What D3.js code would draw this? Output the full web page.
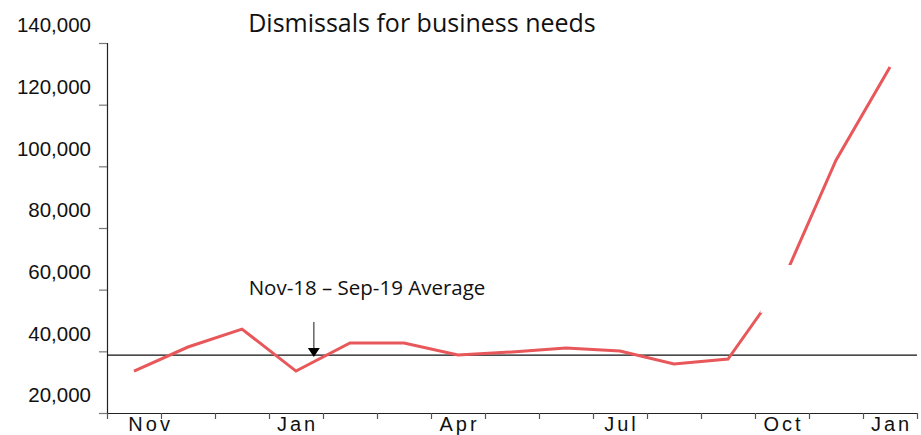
<!DOCTYPE html>
<html>
<head>
<meta charset="utf-8">
<script src="https://cdn.jsdelivr.net/npm/d3@7"></script>
<style>
  html, body { margin: 0; padding: 0; background: #fff; }
  svg { display: block; }
</style>
</head>
<body>
<svg id="chart" width="921" height="435"></svg>
<script>
// ---- data ----
const months = ["Nov-18","Dec-18","Jan-19","Feb-19","Mar-19","Apr-19","May-19","Jun-19",
                "Jul-19","Aug-19","Sep-19","Oct-19","Nov-19","Dec-19","Jan-20"];
const dismissals = [33600, 41400, 47200, 33600, 42700, 42700, 38800, 39800,
                    41100, 40100, 35900, 37500, 62200, 102000, 132200];
const average = 38800;
const yTicks = [20000, 40000, 60000, 80000, 100000, 120000, 140000];
const xTickLabels = ["Nov", "Jan", "Apr", "Jul", "Oct", "Jan"];
const xTickLabelPos = [0.28, 3, 6, 9, 12, 14]; // position in month index units
const title = "Dismissals for business needs";
const annotation = "Nov-18 \u2013 Sep-19 Average";

// ---- layout ----
const svg = d3.select("#chart");
const x = d3.scaleLinear().domain([-0.5, months.length - 0.5]).range([107, 917]);
const y = d3.scaleLinear().domain([20000, 140000]).range([413, 43]);

// title
svg.append("text")
  .attr("x", 422).attr("y", 32)
  .attr("text-anchor", "middle")
  .attr("font-family", "'Open Sans', sans-serif")
  .attr("font-size", 25)
  .attr("fill", "#111")
  .text(title);

// y axis
const yAxis = svg.append("g")
  .attr("transform", `translate(${x.range()[0]},0)`)
  .call(d3.axisLeft(y).tickValues(yTicks).tickFormat(d3.format(",")).tickSize(8).tickPadding(8));
yAxis.select(".domain").attr("stroke", "#222").attr("stroke-width", 1.2);
yAxis.selectAll(".tick line").attr("stroke", "#777").attr("stroke-width", 1.2);
yAxis.selectAll(".tick text")
  .attr("dy", "-0.55em")
  .attr("font-family", "'Liberation Sans', Arial, sans-serif")
  .attr("font-size", 20.5)
  .attr("fill", "#111");

// x axis
const xTickVals = d3.range(-0.5, months.length, 1);
const xAxis = svg.append("g")
  .attr("transform", `translate(0,${y.range()[0]})`)
  .call(d3.axisBottom(x).tickValues(xTickVals).tickFormat("").tickSize(6).tickSizeOuter(0));
xAxis.select(".domain").attr("stroke", "#222").attr("stroke-width", 1.2);
xAxis.selectAll(".tick line").attr("stroke", "#555").attr("stroke-width", 1.2);

svg.append("g").selectAll("text")
  .data(xTickLabels)
  .join("text")
  .attr("x", (d, i) => x(xTickLabelPos[i]) + 1.5)
  .attr("y", 431)
  .attr("text-anchor", "middle")
  .attr("font-family", "'Liberation Sans', Arial, sans-serif")
  .attr("font-size", 20)
  .attr("letter-spacing", 3)
  .attr("fill", "#111")
  .text(d => d);

// average line
svg.append("line")
  .attr("x1", x.range()[0]).attr("x2", x.range()[1])
  .attr("y1", y(average)).attr("y2", y(average))
  .attr("stroke", "#111").attr("stroke-width", 1.3);

// series line
const line = d3.line().x((d, i) => x(i)).y(d => y(d));
svg.append("path")
  .datum(dismissals)
  .attr("d", line)
  .attr("fill", "none")
  .attr("stroke", "#e8575a")
  .attr("stroke-width", 3)
  .attr("stroke-linejoin", "miter");

// white gap over the line near Oct (as in the reference)
svg.append("rect")
  .attr("x", x(11.6)).attr("width", x(12.4) - x(11.6))
  .attr("y", y(68000)).attr("height", y(52500) - y(68000))
  .attr("fill", "#fff");

// annotation
svg.append("text")
  .attr("x", 367).attr("y", 295)
  .attr("text-anchor", "middle")
  .attr("font-family", "'Open Sans', sans-serif")
  .attr("font-size", 20.5)
  .attr("fill", "#111")
  .text(annotation);

// arrow
const ax = x(3.33);
svg.append("line")
  .attr("x1", ax).attr("x2", ax)
  .attr("y1", 322).attr("y2", 349)
  .attr("stroke", "#666").attr("stroke-width", 1.5);
svg.append("path")
  .attr("d", `M${ax - 6},348 L${ax + 6},348 L${ax},357 Z`)
  .attr("fill", "#000");
</script>
</body>
</html>
